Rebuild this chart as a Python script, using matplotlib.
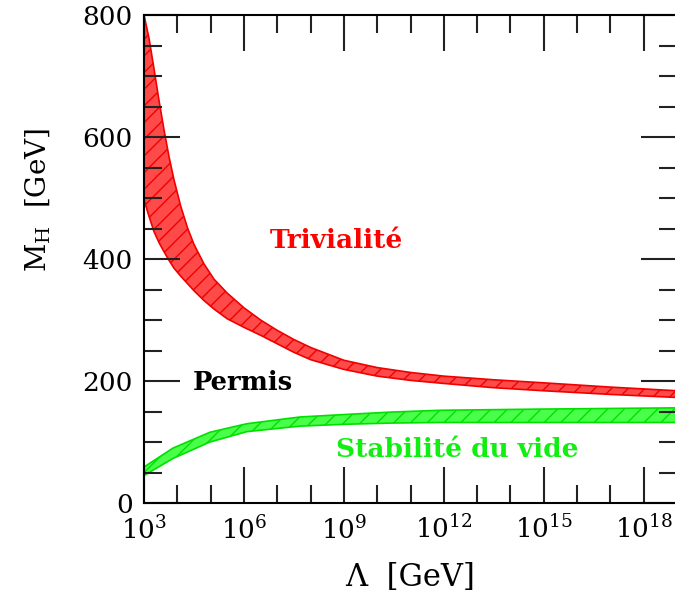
import numpy as np
import matplotlib
matplotlib.use("Agg")
import matplotlib.pyplot as plt
from matplotlib.ticker import MultipleLocator, NullFormatter

plt.rcParams['font.family'] = ['DejaVu Serif']
plt.rcParams['mathtext.fontset'] = 'dejavuserif'
plt.rcParams['hatch.linewidth'] = 1.0

# echelle Lambda en log10(GeV)
log_lambda = [3.0, 3.15, 3.3, 3.45, 3.6, 3.75, 3.9, 4.1, 4.3, 4.5, 4.8, 5.1, 5.5,
              6.0, 6.5, 7.0, 7.5, 8.0, 9.0, 10.0, 11.0, 12.0, 13.5, 15.0, 17.0, 19.0]

# bande de trivialite (borne superieure sur M_H)
triv_haut = [800, 762, 712, 660, 612, 568, 530, 487, 452, 424, 392, 367, 344,
             320, 300, 283, 268, 255, 234, 222, 214, 208, 202, 197, 190, 184]
triv_bas = [497, 470, 445, 427, 412, 398, 385, 372, 360, 348, 332, 318, 302,
            288, 275, 261, 247, 235, 219, 208, 201, 196, 189, 184, 178, 173]

# bande de stabilite du vide (borne inferieure sur M_H)
stab_log = [3.0, 3.87, 4.98, 6.09, 7.68, 9.0, 10.4, 11.9, 15.0, 19.0]
stab_haut = [59, 90, 116, 130, 141, 145, 149, 152, 154, 156]
stab_bas = [45, 73, 100, 117, 126, 129, 131, 132, 132, 132]

x_triv = 10.0 ** np.array(log_lambda)
x_stab = 10.0 ** np.array(stab_log)

fig = plt.figure(figsize=(6.75, 5.98), dpi=100)
ax = fig.add_axes([144/675, 1 - 503/598, 533/675, 488/598])

ax.fill_between(x_triv, triv_bas, triv_haut, facecolor='#ff4a4a',
                edgecolor='#f00000', hatch='//', linewidth=1.2)
ax.fill_between(x_stab, stab_bas, stab_haut, facecolor='#4aff4a',
                edgecolor='#00e000', hatch='//', linewidth=1.2)

ax.text(10**8.77, 431, 'Trivialité', color='#ff0000', fontsize=19,
        fontweight='bold', ha='center', va='center')
ax.text(10**5.97, 198, 'Permis', color='black', fontsize=18.5,
        fontweight='bold', ha='center', va='center')
ax.text(10**12.4, 87, 'Stabilité du vide', color='#11ee11', fontsize=19,
        fontweight='bold', ha='center', va='center')

ax.set_xscale('log')
ax.set_xlim(1e3, 1e19)
ax.set_ylim(0, 800)

major = [3, 6, 9, 12, 15, 18]
ax.set_xticks([10.0**p for p in major])
ax.set_xticklabels([r'$10^{%d}$' % p for p in major])
ax.set_xticks([10.0**p for p in range(3, 20)], minor=True)
ax.xaxis.set_minor_formatter(NullFormatter())
ax.set_yticks([0, 200, 400, 600, 800])
ax.yaxis.set_minor_locator(MultipleLocator(50))

ax.tick_params(which='both', direction='in', top=True, right=True,
               width=1.5, labelsize=19, color='#222222')
ax.tick_params(which='major', length=26)
ax.tick_params(which='minor', length=13)
ax.tick_params(axis='x', which='both', pad=9)
ax.tick_params(axis='y', which='both', pad=8)
for s in ax.spines.values():
    s.set_linewidth(1.5)

ax.set_xlabel('Λ  [GeV]', fontsize=22, labelpad=13)
ax.set_ylabel(r'$\mathrm{M_H}$  [GeV]', fontsize=20)
ax.yaxis.set_label_coords(-0.172, 0.62)

fig.savefig('out.png', dpi=100)
